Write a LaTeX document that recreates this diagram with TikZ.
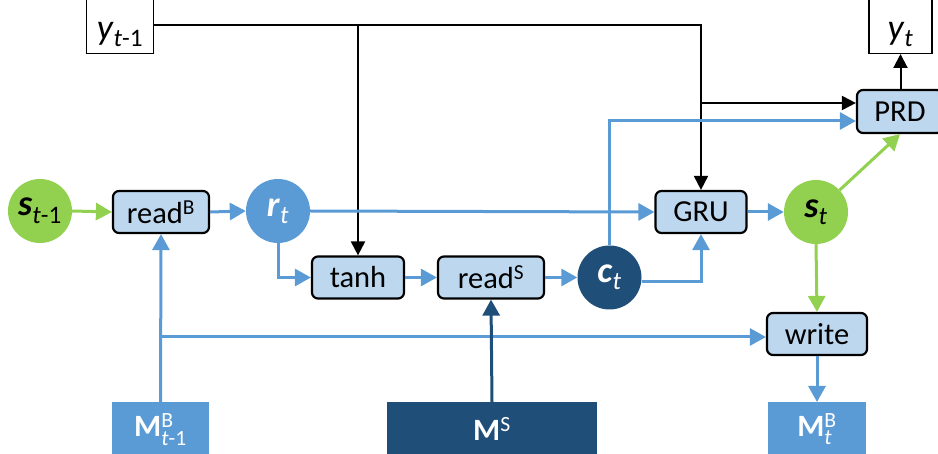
\documentclass[tikz,border=0pt]{standalone}
\usepackage{fontspec}
\setmainfont{Carlito}
\usepackage{amsmath}
\usetikzlibrary{arrows.meta}
\definecolor{lbox}{HTML}{BDD7EE}
\definecolor{mblue}{HTML}{5B9BD5}
\definecolor{dblue}{HTML}{1F4E79}
\definecolor{lgreen}{HTML}{92D050}
\begin{document}
\begin{tikzpicture}[x=1pt,y=-1pt,
  font=\fontsize{30.5}{35}\selectfont,
  varfont/.style={font=\fontsize{36}{40}\selectfont},
  opbox/.style={draw=black,line width=2.2pt,fill=lbox,rounded corners=6pt,inner sep=0pt,minimum height=42pt},
  outbox/.style={draw=black,line width=1.4pt,fill=white,inner sep=2pt,text height=50pt,text depth=12pt,anchor=south,varfont},
  circ/.style={circle,inner sep=0pt,minimum size=64pt,varfont},
  membox/.style={inner sep=0pt,minimum height=54pt,text=white,anchor=north,font=\fontsize{31}{36}\selectfont},
  bl/.style={draw=mblue,line width=3pt,-{Triangle[length=16pt,width=17pt]}},
  gr/.style={draw=lgreen,line width=3pt,-{Triangle[length=16pt,width=17pt]}},
  dbl/.style={draw=dblue,line width=3pt,-{Triangle[length=16pt,width=17pt]}},
  blk/.style={draw=black,line width=2pt},
  blka/.style={blk,-{Triangle[length=14pt,width=14pt]}}]
\useasboundingbox (0,0) rectangle (938,454);
% nodes
\node[outbox,minimum width=67pt] (ym1) at (120,54) {\textit{y}\textsubscript{\textit{t}-1}};
\node[outbox,minimum width=63pt] (yt) at (900.5,54) {\textit{y}\textsubscript{\textit{t}}};
\node[circ,fill=lgreen] (sm1) at (40,211) {\textbf{\textit{s}}\textsubscript{\textit{t}-1}};
\node[opbox,minimum width=96pt] (rdB) at (161,212) {read\textsuperscript{B}};
\node[circ,fill=mblue,text=white] (rt) at (278,211) {\textbf{\textit{r}}\textsubscript{\textit{t}}};
\node[opbox,minimum width=92pt] (tanh) at (358,277.5) {tanh};
\node[opbox,minimum width=106pt] (rdS) at (491,277.5) {read\textsuperscript{S}};
\node[circ,fill=dblue,text=white] (ct) at (609.5,277.5) {\textbf{\textit{c}}\textsubscript{\textit{t}}};
\node[opbox,minimum width=91pt] (gru) at (701,212) {GRU};
\node[circ,fill=lgreen] (st) at (816,212) {\textbf{\textit{s}}\textsubscript{\textit{t}}};
\node[opbox,minimum width=86pt,minimum height=43pt] (prd) at (900,111.5) {PRD};
\node[opbox,minimum width=100pt] (write) at (817,334) {write};
\node[membox,fill=mblue,minimum width=97pt] (mbm1) at (160.5,402) {\textbf{M}$^{\text{B}}_{\text{\textit{t}-1}}$};
\node[membox,fill=dblue,minimum width=210pt] (ms) at (492,402) {\textbf{M}\textsuperscript{S}};
\node[membox,fill=mblue,minimum width=98pt] (mbt) at (817,402) {\textbf{M}$^{\text{B}}_{\text{\textit{t}}}$};
% junctions
\coordinate (j1) at (358,25);
\coordinate (j2) at (701,25);
\coordinate (j3) at (701,103);
\coordinate (j4) at (609.5,121);
\coordinate (j5) at (160.5,337);
% black connectors
\draw[blk,-{Triangle[length=14pt,width=14pt]}] (ym1.east |- j1) -- (j2) -- (gru.north);
\draw[blka] (j1) -- (tanh.north);
\draw[blka] (j3) -- (prd.west |- j3);
\draw[blka] (yt.south |- prd.north) -- (yt.south);
% coloured connectors
\draw[gr] (sm1.east) -- (rdB.west);
\draw[bl] (rdB.east) -- (rt.west);
\draw[bl] (rt.east) -- (gru.west);
\draw[bl] (rt.south) |- (tanh.west);
\draw[bl] (tanh.east) -- (rdS.west);
\draw[bl] (rdS.east) -- (ct.west);
\draw[bl] ([yshift=-4pt]ct.east) -| (gru.south);
\draw[bl] (ct.north) -- (j4) -- (prd.west |- j4);
\draw[bl] (gru.east) -- (st.west);
\draw[gr] (st) -- (prd.south);
\draw[gr] (st.south) -- (write.north);
\draw[bl] (write.south) -- (mbt.north);
\draw[bl] (mbm1.north) -- (rdB.south);
\draw[bl] (j5) -- (write.west |- j5);
\draw[dbl] (ms.north) -- (rdS.south);
\end{tikzpicture}
\end{document}
